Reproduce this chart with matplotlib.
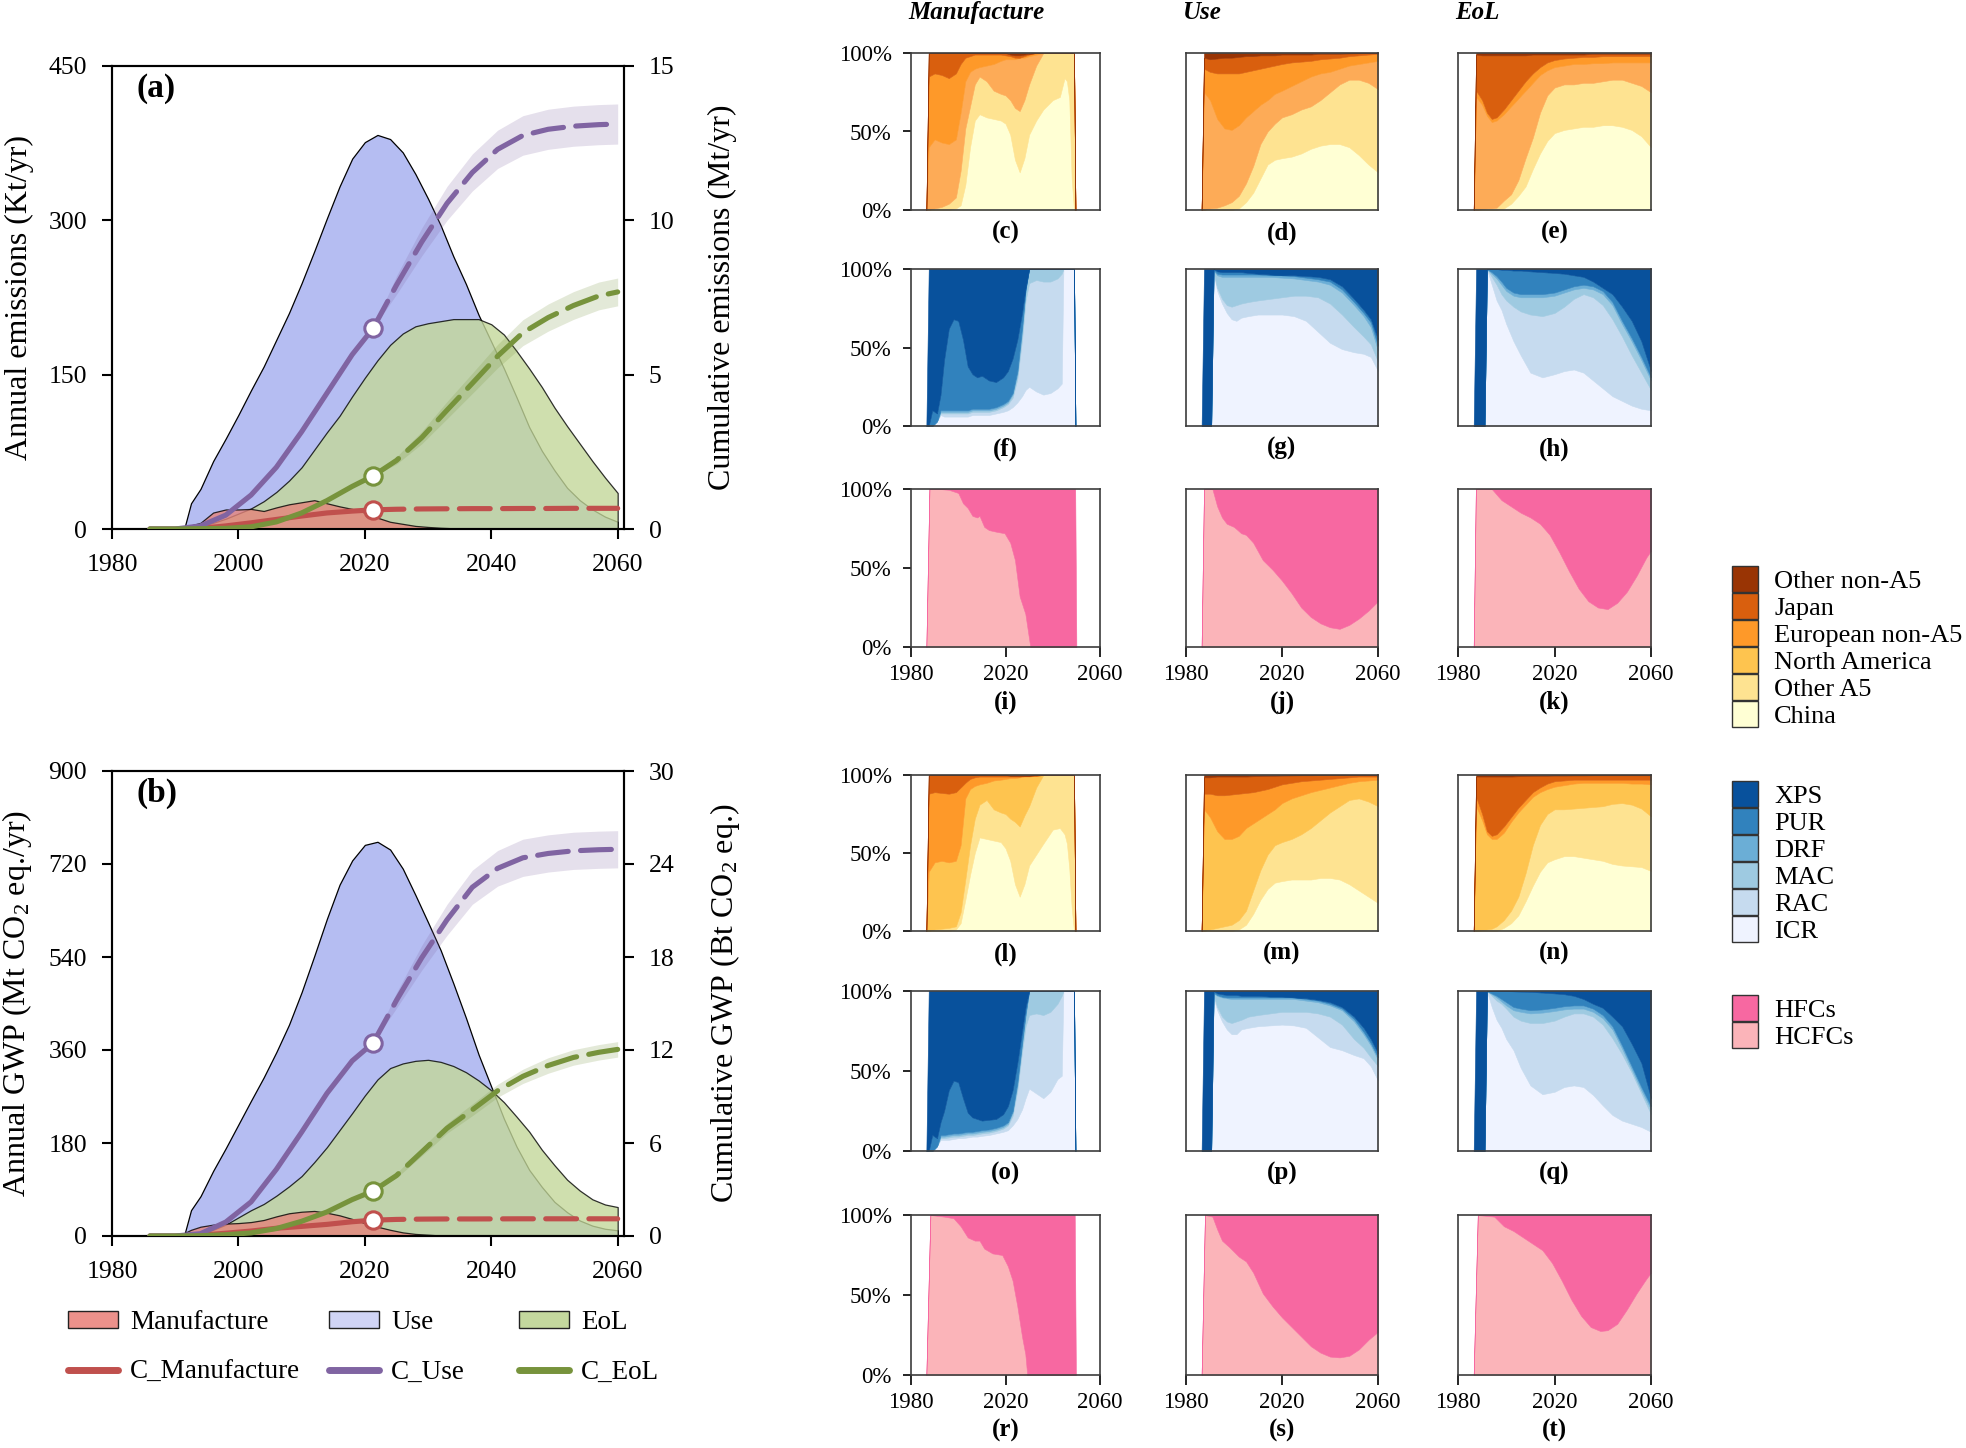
import numpy as np
import matplotlib
matplotlib.use("Agg")
import matplotlib.pyplot as plt
from matplotlib.patches import Patch
from matplotlib.lines import Line2D

plt.rcParams['font.family'] = ['Liberation Serif', 'DejaVu Serif']
plt.rcParams['mathtext.fontset'] = 'custom'
plt.rcParams['mathtext.rm'] = 'Liberation Serif'
plt.rcParams['mathtext.it'] = 'Liberation Serif:italic'
plt.rcParams['mathtext.bf'] = 'Liberation Serif:bold'

# ------------------------------------------------------------------
# Panels (a)/(b): annual emissions by stage (areas) and cumulative lines
# ------------------------------------------------------------------
yr_annual = [1986, 1990, 1991.5, 1992.5, 1994, 1996, 1998, 2000, 2002, 2004, 2006, 2008, 2010,
             2012, 2014, 2016, 2018, 2020, 2022, 2024, 2026, 2028, 2030, 2032, 2034, 2036,
             2038, 2040, 2042, 2044, 2046, 2048, 2050, 2052, 2054, 2056, 2058, 2060]
# (a) annual emissions, Kt/yr
a_manufacture = [0, 0.5, 2, 3.5, 6, 16, 19, 19, 19.5, 17.5, 21, 24, 26, 28, 25, 22, 19.5, 16, 11, 7,
                 5, 3, 2, 1.2, 0.7, 0.3, 0, 0, 0, 0, 0, 0, 0, 0, 0, 0, 0, 0]
a_use = [0, 0, 2, 25, 39, 66, 88, 111, 135, 158, 184, 210, 239, 270, 302, 333, 360, 376, 383, 379,
         366, 345, 321, 295, 265, 238, 208, 182, 156, 128, 99, 76, 57, 40, 28, 19, 12, 7]
a_eol = [0, 0, 0, 1, 3, 6, 10, 15, 20, 27, 36, 47, 60, 77, 94, 110, 129, 147, 164, 179, 190, 197,
         200, 202, 204, 204, 204, 199, 189, 173, 156, 138, 118, 100, 83, 66, 50, 35]
# (b) annual GWP, Mt CO2 eq./yr
b_manufacture = [0, 1, 6, 12, 18, 22, 24, 25, 27, 31, 38, 44, 47, 48.5, 45, 40, 33, 25, 18, 12, 7,
                 4, 2.5, 1, 0.3, 0, 0, 0, 0, 0, 0, 0, 0, 0, 0, 0, 0, 0]
b_use = [0, 0, 5, 50, 77, 126, 170, 216, 262, 307, 356, 409, 472, 542, 614, 680, 727, 757, 763, 748,
         711, 660, 607, 553, 489, 422, 351, 289, 227, 173, 128, 95, 66, 46, 30, 20, 14, 11]
b_eol = [0, 0, 0, 0.5, 3, 12, 22, 36, 50, 62, 78, 96, 116, 143, 172, 205, 238, 272, 303, 325, 334,
         339, 341, 337, 329, 317, 301, 282, 259, 231, 202, 167, 137, 109, 88, 71, 61, 56]

yr_cum = [1986, 1990, 1994, 1998, 2002, 2006, 2010, 2014, 2018, 2021.3, 2025, 2029, 2033, 2037,
          2041, 2045, 2049, 2053, 2057, 2060]
marker_year = 2021.3
# (a) cumulative, Mt
a_c_manufacture = [0, 0, 0.02, 0.1, 0.2, 0.31, 0.42, 0.52, 0.58, 0.62, 0.64, 0.65, 0.655, 0.66,
                   0.66, 0.665, 0.665, 0.67, 0.67, 0.67]
a_c_use = [0, 0, 0.1, 0.45, 1.1, 2.0, 3.15, 4.4, 5.65, 6.5, 7.9, 9.3, 10.55, 11.55, 12.3, 12.75,
           12.95, 13.05, 13.1, 13.12]
a_c_eol = [0, 0, 0.01, 0.02, 0.07, 0.23, 0.52, 0.92, 1.38, 1.72, 2.22, 2.96, 3.85, 4.72, 5.6, 6.36,
           6.85, 7.24, 7.55, 7.68]
# (b) cumulative, Bt CO2 eq.
b_c_manufacture = [0, 0, 0.05, 0.18, 0.32, 0.5, 0.62, 0.75, 0.92, 1.02, 1.07, 1.09, 1.1, 1.1, 1.105,
                   1.11, 1.11, 1.11, 1.11, 1.11]
b_c_use = [0, 0, 0.15, 0.9, 2.2, 4.3, 6.7, 9.2, 11.3, 12.45, 15.2, 17.95, 20.4, 22.5, 23.72, 24.4,
           24.68, 24.85, 24.92, 24.95]
b_c_eol = [0, 0, 0.02, 0.08, 0.2, 0.48, 0.95, 1.55, 2.35, 2.9, 3.9, 5.42, 6.95, 8.14, 9.37, 10.3,
           11.0, 11.52, 11.85, 12.04]

# uncertainty bands of projections
yr_band = [2021.3, 2025, 2029, 2033, 2037, 2041, 2045, 2049, 2053, 2057, 2060]
a_c_use_lo = [6.5, 7.6, 8.85, 10.0, 10.95, 11.68, 12.11, 12.3, 12.4, 12.45, 12.47]
a_c_use_hi = [6.5, 8.2, 9.75, 11.1, 12.15, 12.92, 13.39, 13.6, 13.7, 13.75, 13.77]
a_c_eol_lo = [1.72, 2.10, 2.76, 3.57, 4.39, 5.22, 5.94, 6.41, 6.79, 7.10, 7.23]
a_c_eol_hi = [1.72, 2.34, 3.16, 4.13, 5.05, 5.98, 6.78, 7.29, 7.69, 8.00, 8.13]
b_c_use_lo = [12.45, 14.7, 17.15, 19.4, 21.4, 22.57, 23.2, 23.48, 23.65, 23.72, 23.75]
b_c_use_hi = [12.45, 15.7, 18.75, 21.4, 23.6, 24.87, 25.6, 25.88, 26.05, 26.12, 26.15]
b_c_eol_lo = [2.9, 3.75, 5.17, 6.63, 7.76, 8.95, 9.84, 10.5, 11.02, 11.35, 11.54]
b_c_eol_hi = [2.9, 4.05, 5.67, 7.27, 8.52, 9.79, 10.76, 11.5, 12.02, 12.35, 12.54]

# ------------------------------------------------------------------
# Share panels: cumulative upper edge (%) of each stacked layer, bottom -> top
# ------------------------------------------------------------------
region_labels = ['China', 'Other A5', 'North America', 'European non-A5', 'Japan', 'Other non-A5']
sector_labels = ['ICR', 'RAC', 'MAC', 'DRF', 'PUR', 'XPS']
gas_labels = ['HCFCs', 'HFCs']

yr_c = [1986.5, 1987.5, 1990, 1993, 1996, 1999, 2001, 2003, 2005, 2007, 2009, 2012, 2015, 2018, 2020,
        2022, 2024, 2026, 2028, 2030, 2033, 2036, 2040, 2043, 2045, 2046, 2047, 2048, 2049, 2049.6]
c_edges = [
    [0, 0, 0, 0, 0, 1, 3, 16, 40, 57, 61, 59, 58, 57, 55, 48, 32, 24, 33, 48, 57, 64, 70, 72, 84, 82, 70, 20, 0, 0],
    [0, 0, 1, 2, 4, 8, 25, 52, 66, 80, 85, 82, 76, 74, 73, 70, 65, 63, 70, 80, 92, 100, 100, 100, 100, 100, 100, 100, 100, 0],
    [0, 40, 45, 43, 42, 45, 62, 82, 88, 90, 91, 92, 93, 95, 96, 96, 96, 97, 97, 98, 99, 100, 100, 100, 100, 100, 100, 100, 100, 0],
    [0, 85, 87, 86, 84, 87, 93, 97, 98, 99, 99, 99, 99, 99, 98.5, 98, 97, 97, 98, 99, 100, 100, 100, 100, 100, 100, 100, 100, 100, 0],
    [0, 100, 100, 100, 100, 100, 100, 100, 100, 100, 100, 100, 100, 100, 100, 99, 98.5, 98.5, 99, 99.5, 100, 100, 100, 100, 100, 100, 100, 100, 100, 0],
    [0, 100, 100, 100, 100, 100, 100, 100, 100, 100, 100, 100, 100, 100, 100, 100, 100, 100, 100, 100, 100, 100, 100, 100, 100, 100, 100, 100, 100, 0],
]

yr_d = [1986.5, 1987.5, 1990, 1993, 1996, 1999, 2002, 2005, 2008, 2011, 2014, 2017, 2020, 2024, 2028,
        2032, 2036, 2040, 2044, 2048, 2052, 2056, 2060]
d_edges = [
    [0, 0, 0, 0, 0, 0, 1, 5, 11, 20, 29, 32, 33, 34, 36, 39, 41, 42, 42, 40, 35, 29, 24],
    [0, 0, 1, 1.5, 3, 5, 9, 17, 28, 42, 50, 55, 59, 61, 64, 66, 70, 75, 80, 83, 83, 81, 77],
    [0, 75, 70, 58, 52, 51, 54, 59, 63, 67, 70, 74, 76, 79, 82, 85, 87, 88, 90, 92, 93, 94, 95],
    [0, 90, 88, 87, 87, 87, 87, 88, 89, 90, 91, 92, 93, 94, 94.5, 95, 96, 96.5, 97, 98, 98.5, 99, 99.5],
    [0, 97, 96, 96.5, 97, 97, 97.5, 98, 98, 98.5, 98.5, 98.5, 99, 99, 99, 99, 99.5, 99.5, 99.5, 99.7, 99.8, 99.9, 100],
    [0, 100, 100, 100, 100, 100, 100, 100, 100, 100, 100, 100, 100, 100, 100, 100, 100, 100, 100, 100, 100, 100, 100],
]

yr_e = [1986.5, 1987.5, 1990, 1992, 1994, 1996, 1999, 2002, 2005, 2008, 2011, 2014, 2017, 2020, 2024,
        2028, 2032, 2036, 2040, 2044, 2048, 2052, 2056, 2060]
e_edges = [
    [0, 0, 0, 0, 0, 0, 1, 4, 9, 15, 26, 36, 44, 49, 51, 52, 53, 53, 54, 54, 53, 51, 47, 40],
    [0, 0, 0.5, 1, 1, 1.5, 6, 10, 19, 33, 46, 62, 73, 78, 80, 80, 81, 81, 82, 83, 83, 81, 79, 75],
    [0, 72, 67, 60, 56, 57, 61, 66, 71, 76, 81, 86, 89, 91, 92, 93, 93, 93.5, 93.5, 94, 94, 94, 94, 94],
    [0, 76, 70, 62, 58, 59, 64, 70, 76, 82, 87, 91, 94, 95.5, 96.5, 97, 97.5, 97.5, 98, 98, 98, 98, 98, 98],
    [0, 99, 98.5, 98.5, 98.5, 98.5, 98.5, 98.5, 98.5, 98.5, 99, 99, 99, 99, 99, 99, 99, 99.5, 99.5, 99.5, 99.5, 99.5, 99.5, 99.5],
    [0, 100, 100, 100, 100, 100, 100, 100, 100, 100, 100, 100, 100, 100, 100, 100, 100, 100, 100, 100, 100, 100, 100, 100],
]

yr_f = [1986.5, 1987.5, 1989, 1991, 1992.5, 1994, 1996, 1998, 2000, 2002, 2004, 2006, 2008, 2010, 2013,
        2016, 2019, 2021, 2023, 2025, 2027, 2028.5, 2030, 2033, 2036, 2039, 2042, 2043.8, 2044.5, 2046,
        2048, 2049, 2049.6]
f_edges = [
    [0, 0, 0, 3, 7, 6, 6, 6, 6, 6, 6, 7, 7, 7, 7, 8, 9, 10, 12, 15, 19, 23, 25, 22, 20, 21, 24, 27, 100, 100, 100, 100, 0],
    [0, 0, 0, 3, 8, 8, 8, 8, 8, 8, 8, 9, 9, 9, 9, 10, 12, 14, 18, 30, 55, 80, 91, 93, 92, 92, 94, 97, 100, 100, 100, 100, 0],
    [0, 0, 0, 3, 9, 9, 9, 9, 9, 9, 9, 10, 10, 10, 10, 11, 13, 15, 20, 33, 60, 86, 100, 100, 100, 100, 100, 100, 100, 100, 100, 100, 0],
    [0, 0, 0, 3, 10, 10, 10, 10, 10, 10, 10, 11, 11, 11, 11, 12, 14, 16, 21, 35, 63, 87, 100, 100, 100, 100, 100, 100, 100, 100, 100, 100, 0],
    [0, 0, 10, 8, 20, 42, 62, 68, 67, 55, 38, 33, 31, 32, 29, 28, 31, 35, 43, 55, 72, 88, 100, 100, 100, 100, 100, 100, 100, 100, 100, 100, 0],
    [0, 100, 100, 100, 100, 100, 100, 100, 100, 100, 100, 100, 100, 100, 100, 100, 100, 100, 100, 100, 100, 100, 100, 100, 100, 100, 100, 100, 100, 100, 100, 100, 0],
]

yr_g = [1986.5, 1987.5, 1990.5, 1991.5, 1993, 1995, 1997, 1999, 2001, 2003, 2006, 2010, 2015, 2020, 2025,
        2030, 2035, 2040, 2045, 2050, 2054, 2057, 2060]
g_edges = [
    [0, 0, 0, 97, 86, 78, 72, 68, 67, 69, 70, 71, 71, 71, 70, 67, 60, 53, 49, 47, 46, 44, 35],
    [0, 0, 0, 98, 88, 81, 77, 76, 77, 78, 79, 80, 81, 82, 83, 83, 82, 78, 71, 63, 57, 52, 41],
    [0, 0, 0, 99, 96, 95, 95, 95, 95, 95, 95, 95, 95, 94.5, 94, 93, 92, 90, 85, 77, 70, 63, 48],
    [0, 0, 0, 99.5, 97, 96.5, 96.5, 96.5, 96.5, 96.5, 96.5, 96.5, 96, 96, 95.5, 94.5, 93.5, 92, 87, 79, 72, 66, 51],
    [0, 0, 0, 100, 98.5, 98, 98, 98, 98, 98, 97.5, 97, 96.5, 96, 96, 95.5, 95, 93.5, 89, 81, 74, 68, 55],
    [0, 100, 100, 100, 100, 100, 100, 100, 100, 100, 100, 100, 100, 100, 100, 100, 100, 100, 100, 100, 100, 100, 100],
]

yr_h = [1986.5, 1987.5, 1991, 1992, 1994, 1996, 1998, 2000, 2003, 2006, 2010, 2015, 2020, 2024, 2028,
        2032, 2036, 2040, 2044, 2048, 2052, 2056, 2060]
h_edges = [
    [0, 0, 0, 100, 90, 80, 74, 65, 54, 45, 34, 31, 33, 35, 36, 34, 29, 24, 19, 16, 13, 11, 10],
    [0, 0, 0, 100, 95, 90, 84, 80, 76, 73, 71, 70, 72, 76, 81, 84, 82, 77, 68, 57, 45, 34, 23],
    [0, 0, 0, 100, 97, 94, 90, 86, 83, 82, 82, 82, 83, 85, 87, 88, 87, 84, 77, 65, 54, 42, 29],
    [0, 0, 0, 100, 98, 95.5, 92, 88, 85, 84, 84, 84, 85, 87, 89, 90, 89, 86, 79, 67, 56, 44, 31],
    [0, 0, 0, 100, 100, 100, 99.5, 99.5, 99, 99, 98.5, 98, 97.5, 97, 96, 95, 92, 88, 84, 76, 67, 54, 35],
    [0, 100, 100, 100, 100, 100, 100, 100, 100, 100, 100, 100, 100, 100, 100, 100, 100, 100, 100, 100, 100, 100, 100],
]

yr_i = [1986.5, 1987.8, 1992, 1996, 2000, 2002, 2004, 2006, 2008, 2009, 2011, 2013, 2016, 2019.6, 2022,
        2024, 2026, 2028.4, 2030.5, 2035, 2040, 2045, 2049.5, 2050]
i_edges = [
    [0, 100, 100, 99.5, 97.5, 91, 88, 83, 82, 83, 76, 74, 73, 72, 66, 55, 32, 21, 0, 0, 0, 0, 0, 0],
    [0, 100, 100, 100, 100, 100, 100, 100, 100, 100, 100, 100, 100, 100, 100, 100, 100, 100, 100, 100, 100, 100, 100, 0],
]

yr_j = [1986.5, 1987.5, 1991, 1993, 1995, 1997, 2000, 2003, 2005, 2008, 2012, 2016, 2020, 2024, 2028,
        2032, 2036, 2040, 2044, 2048, 2052, 2056, 2060]
j_edges = [
    [0, 100, 100, 89, 82, 78, 76, 72, 71, 66, 55, 49, 42, 34, 25, 19, 15, 12.5, 11.5, 14, 18, 23, 29],
    [0, 100, 100, 100, 100, 100, 100, 100, 100, 100, 100, 100, 100, 100, 100, 100, 100, 100, 100, 100, 100, 100, 100],
]

yr_k = [1986.5, 1987.4, 1990, 1994, 1998, 2002, 2006, 2010, 2014, 2018, 2022, 2026, 2030, 2034, 2038,
        2042, 2046, 2050, 2054, 2058, 2060]
k_edges = [
    [0, 100, 100, 100, 93, 89, 85, 82, 78, 71, 60, 48, 37, 29, 25, 24, 28, 35, 45, 56.5, 61],
    [0, 100, 100, 100, 100, 100, 100, 100, 100, 100, 100, 100, 100, 100, 100, 100, 100, 100, 100, 100, 100],
]

yr_l = yr_c
l_edges = [
    [0, 0, 0, 0, 0, 1, 5, 20, 36, 50, 60, 59, 58, 57, 53, 45, 30, 22, 30, 42, 49, 56, 65, 66, 62, 56, 40, 15, 0, 0],
    [0, 0, 1, 1.5, 2, 3, 12, 33, 55, 72, 81, 84, 78, 76, 75, 72, 70, 67, 74, 80, 92, 100, 100, 100, 100, 100, 100, 100, 100, 0],
    [0, 38, 44, 45, 44, 45, 55, 85, 91, 93, 94, 95, 96.5, 97, 97.5, 98, 98, 98.5, 99, 99, 99.5, 100, 100, 100, 100, 100, 100, 100, 100, 0],
    [0, 88, 89, 88.5, 88, 89, 92, 95, 97.5, 98.5, 99, 99, 99, 99, 99, 99, 99, 99, 99.5, 99.5, 99.5, 100, 100, 100, 100, 100, 100, 100, 100, 0],
    [0, 100, 100, 100, 100, 100, 100, 100, 100, 100, 100, 100, 100, 100, 100, 99.5, 99.5, 99.5, 99.5, 99.5, 100, 100, 100, 100, 100, 100, 100, 100, 100, 0],
    [0, 100, 100, 100, 100, 100, 100, 100, 100, 100, 100, 100, 100, 100, 100, 100, 100, 100, 100, 100, 100, 100, 100, 100, 100, 100, 100, 100, 100, 0],
]

yr_m = yr_d
m_edges = [
    [0, 0, 0, 0, 0, 0, 1, 4, 11, 20, 27, 31, 32, 33, 33, 33, 34, 34, 33, 30, 26, 22, 18],
    [0, 0, 1, 2, 3, 4, 7, 13, 26, 39, 49, 55, 57, 59, 62, 66, 71, 76, 80, 84, 85, 83, 80],
    [0, 78, 73, 64, 59, 59, 61, 66, 69, 72, 75, 78, 82, 85, 87, 89, 90.5, 92, 93.5, 95, 96, 96.5, 97],
    [0, 88, 88, 87, 87, 87.5, 88, 88.5, 89, 90, 91, 92.5, 94, 95, 96, 96.5, 97, 97.5, 98, 98.5, 99, 99, 99],
    [0, 98.5, 98.5, 99, 99, 99, 99, 99, 99.2, 99.3, 99.4, 99.5, 99.6, 99.7, 99.8, 99.8, 99.9, 99.9, 100, 100, 100, 100, 100],
    [0, 100, 100, 100, 100, 100, 100, 100, 100, 100, 100, 100, 100, 100, 100, 100, 100, 100, 100, 100, 100, 100, 100],
]

yr_n = yr_e
n_edges = [
    [0, 0, 0, 0, 0, 0, 2, 5, 10, 19, 29, 38, 44, 46, 48, 48, 47, 46, 45, 43, 42, 41.5, 41, 38.5],
    [0, 0, 0.5, 1, 1.5, 3, 7, 13, 22, 37, 55, 68, 75, 78, 78, 78.5, 79, 79.5, 80, 81.5, 82, 81, 78.5, 73.5],
    [0, 80, 71, 62, 59, 59, 63, 70, 76, 81, 86, 89, 91, 92.5, 93.5, 94.5, 95, 95, 95, 95, 95, 94.5, 94.5, 94],
    [0, 86, 75, 64, 61, 62, 67, 73, 79, 84, 89, 92, 94.5, 96, 96.5, 97, 97, 97, 97, 97, 97, 97, 97, 97],
    [0, 99, 99, 99, 99, 99, 99, 99, 99.2, 99.3, 99.4, 99.5, 99.5, 99.6, 99.6, 99.7, 99.7, 99.8, 99.8, 99.8, 99.8, 99.8, 99.8, 99.8],
    [0, 100, 100, 100, 100, 100, 100, 100, 100, 100, 100, 100, 100, 100, 100, 100, 100, 100, 100, 100, 100, 100, 100, 100],
]

yr_o = yr_f
o_edges = [
    [0, 0, 0, 3, 7, 7, 7, 7.5, 8, 8, 8.5, 9, 9, 9.5, 10, 11, 12, 13, 16, 20, 26, 33, 39, 36, 33, 37, 45, 47, 100, 100, 100, 100, 0],
    [0, 0, 0, 3, 8, 8, 8.5, 9, 9, 9.5, 10, 10, 10.5, 11, 11.5, 12.5, 14, 16, 22, 38, 62, 78, 85, 86, 85, 87, 92, 97, 100, 100, 100, 100, 0],
    [0, 0, 0, 3, 9, 9, 9.5, 10, 10, 10.5, 11, 11, 11.5, 12, 12.5, 13.5, 15, 17, 24, 41, 66, 84, 100, 100, 100, 100, 100, 100, 100, 100, 100, 100, 0],
    [0, 0, 0, 3, 10, 10, 10.5, 11, 11, 11.5, 12, 12, 12.5, 13, 13.5, 14.5, 16, 18, 25, 43, 68, 86, 100, 100, 100, 100, 100, 100, 100, 100, 100, 100, 0],
    [0, 0, 10, 8, 18, 25, 38, 44, 43, 33, 24, 21, 20, 19, 19.5, 20, 23, 28, 38, 55, 75, 90, 100, 100, 100, 100, 100, 100, 100, 100, 100, 100, 0],
    [0, 100, 100, 100, 100, 100, 100, 100, 100, 100, 100, 100, 100, 100, 100, 100, 100, 100, 100, 100, 100, 100, 100, 100, 100, 100, 100, 100, 100, 100, 100, 100, 0],
]

yr_p = yr_g
p_edges = [
    [0, 0, 0, 96, 88, 81, 76, 73, 73, 76, 77, 78, 78.5, 79, 78.5, 77, 71, 65, 63, 60, 58, 53, 44],
    [0, 0, 0, 97.5, 90, 84, 81, 80, 81, 82, 84, 85, 86, 87, 87, 87, 86, 84, 79, 70, 64.5, 58.5, 53],
    [0, 0, 0, 98.5, 97, 96, 95.5, 95, 95, 95, 95, 95, 95, 95, 95, 94, 93, 91, 88, 81, 73, 66, 57],
    [0, 0, 0, 99, 97.5, 96.5, 96, 96, 96, 96, 96, 96, 96, 96, 96, 95, 94, 92, 89, 82.5, 74.5, 67.5, 58.5],
    [0, 0, 0, 100, 98.5, 98, 97.5, 97.5, 97.5, 97, 97, 97, 96.5, 96.5, 96, 95.5, 94.5, 93, 90, 84, 77, 70, 61],
    [0, 100, 100, 100, 100, 100, 100, 100, 100, 100, 100, 100, 100, 100, 100, 100, 100, 100, 100, 100, 100, 100, 100],
]

yr_q = yr_h
q_edges = [
    [0, 0, 0, 100, 90, 82, 77, 70, 63, 52, 41, 35.5, 37, 40, 41, 40, 35, 28.5, 22.5, 19, 17, 15, 12],
    [0, 0, 0, 100, 97, 94, 92, 89, 84, 81.5, 80, 80, 81.5, 84, 86, 86, 84, 79, 70.5, 60.5, 49, 36, 23],
    [0, 0, 0, 100, 98, 96, 93.5, 91, 88, 87, 86, 86.5, 87.5, 88.5, 89, 89, 87, 83, 76, 64, 51, 38, 26],
    [0, 0, 0, 100, 98.5, 97, 95, 93, 90, 89, 88, 88.5, 89.5, 90.5, 91, 91, 89, 85, 78, 66, 53, 40, 28],
    [0, 0, 0, 100, 100, 100, 100, 100, 99.8, 99.6, 99.5, 99, 98.5, 98, 97, 95, 92, 89.5, 84, 78, 67, 55, 33],
    [0, 100, 100, 100, 100, 100, 100, 100, 100, 100, 100, 100, 100, 100, 100, 100, 100, 100, 100, 100, 100, 100, 100],
]

yr_r = [1986.5, 1988.2, 1994, 1998, 2001, 2004, 2007, 2009, 2011, 2014.5, 2018.6, 2021, 2023, 2025,
        2027, 2028.4, 2029.2, 2035, 2040, 2045, 2049.3, 2049.8]
r_edges = [
    [0, 100, 99, 98, 93, 86, 84, 84, 79, 76, 75, 68, 59, 43, 24, 13, 0, 0, 0, 0, 0, 0],
    [0, 100, 100, 100, 100, 100, 100, 100, 100, 100, 100, 100, 100, 100, 100, 100, 100, 100, 100, 100, 100, 0],
]

yr_s = [1986.5, 1987.9, 1991, 1993, 1995, 1998, 2002, 2005, 2008, 2012, 2016, 2020, 2024, 2028, 2032,
        2036, 2040, 2044, 2048, 2052, 2056, 2060]
s_edges = [
    [0, 100, 99, 91, 84, 80, 74, 71, 64, 51, 43, 36, 30, 24, 18, 14, 11.5, 11, 12, 16, 22, 27],
    [0, 100, 100, 100, 100, 100, 100, 100, 100, 100, 100, 100, 100, 100, 100, 100, 100, 100, 100, 100, 100, 100],
]

yr_t = [1986.5, 1988.2, 1995, 1999, 2003, 2007, 2011, 2015, 2019, 2023, 2027, 2031, 2035, 2039, 2042,
        2046, 2050, 2054, 2058, 2060]
t_edges = [
    [0, 100, 99, 93, 90, 86, 82, 78, 70, 59, 47, 37, 30, 27.5, 28, 32, 41, 51, 60, 64],
    [0, 100, 100, 100, 100, 100, 100, 100, 100, 100, 100, 100, 100, 100, 100, 100, 100, 100, 100, 100],
]

# ------------------------------------------------------------------
# Styles
# ------------------------------------------------------------------
region_colors_emis = ['#FFFFD4', '#FEE391', '#FDAB57', '#FE9929', '#D95F0E', '#993404']
region_colors_gwp = ['#FFFFD4', '#FEE391', '#FEC44F', '#FE9929', '#D95F0E', '#993404']
sector_colors = ['#EFF3FF', '#C6DBEF', '#9ECAE1', '#6BAED6', '#3182BD', '#08519C']
gas_colors = ['#FBB4B9', '#F768A1']

col_manu_fill, col_use_fill, col_eol_fill = '#E5847B', '#B5BDF2', '#C4D89A'
col_manu_line, col_use_line, col_eol_line = '#C0504D', '#8064A2', '#77933C'

W, H = 1966, 1448
fig = plt.figure(figsize=(W / 100, H / 100), dpi=100)

LINE_W = 3.7


def main_panel(rect, label, manu, use, eol, ymax, yticks, rmax, rticks,
               c_manu, c_use, c_eol, use_lo, use_hi, eol_lo, eol_hi, ylabel, rlabel):
    ax = fig.add_axes(rect)
    yrs = np.asarray(yr_annual)
    ax.fill_between(yrs, 0, use, facecolor=col_use_fill, edgecolor='black', linewidth=0.9, zorder=1)
    ax.fill_between(yrs, 0, eol, facecolor=col_eol_fill, edgecolor='black', linewidth=0.9,
                    alpha=0.8, zorder=2)
    ax.fill_between(yrs, 0, manu, facecolor=col_manu_fill, edgecolor='black', linewidth=0.9,
                    alpha=0.8, zorder=3)
    ax.set_xlim(1980, 2061)
    ax.set_ylim(0, ymax)
    ax.set_yticks(yticks)
    ax.set_xticks([1980, 2000, 2020, 2040, 2060])
    ax.tick_params(direction='out', length=7, width=1.5, labelsize=18.5, pad=11)
    for s in ax.spines.values():
        s.set_linewidth(1.5)
        s.set_color('black')
    ax.set_ylabel(ylabel, fontsize=23, labelpad=10)
    ax.text(0.048, 0.985, label, transform=ax.transAxes, fontsize=24, fontweight='bold',
            ha='left', va='top')

    ax2 = ax.twinx()
    ax2.set_ylim(0, rmax)
    ax2.set_yticks(rticks)
    ax2.tick_params(direction='out', length=7, width=1.5, labelsize=18.5, pad=11)
    for s in ax2.spines.values():
        s.set_linewidth(1.5)
    ax2.set_ylabel(rlabel, fontsize=23, labelpad=24)

    cy = np.asarray(yr_cum)
    ax2.fill_between(yr_band, use_lo, use_hi, color=col_use_line, alpha=0.2, linewidth=0, zorder=1)
    ax2.fill_between(yr_band, eol_lo, eol_hi, color=col_eol_line, alpha=0.2, linewidth=0, zorder=1)
    solid = cy <= marker_year
    dashed = cy >= marker_year
    idx = int(np.argmin(np.abs(cy - marker_year)))
    for vals, col in [(c_manu, col_manu_line), (c_use, col_use_line), (c_eol, col_eol_line)]:
        v = np.asarray(vals)
        ax2.plot(cy[solid], v[solid], color=col, lw=LINE_W, solid_capstyle='round', zorder=3)
        ax2.plot(cy[dashed], v[dashed], color=col, lw=LINE_W, dashes=(6, 2.4),
                 dash_capstyle='round', zorder=3)
    for vals, col in [(c_manu, col_manu_line), (c_use, col_use_line), (c_eol, col_eol_line)]:
        ax2.plot(cy[idx], vals[idx], 'o', ms=12.5, mfc='white', mec=col, mew=2.2, zorder=5)
    return ax


main_panel([112 / W, 1 - 529 / H, 512 / W, 463 / H], '(a)', a_manufacture, a_use, a_eol,
           450, [0, 150, 300, 450], 15, [0, 5, 10, 15],
           a_c_manufacture, a_c_use, a_c_eol, a_c_use_lo, a_c_use_hi, a_c_eol_lo, a_c_eol_hi,
           'Annual emissions (Kt/yr)', 'Cumulative emissions (Mt/yr)')
main_panel([112 / W, 1 - 1236 / H, 512 / W, 465 / H], '(b)', b_manufacture, b_use, b_eol,
           900, [0, 180, 360, 540, 720, 900], 30, [0, 6, 12, 18, 24, 30],
           b_c_manufacture, b_c_use, b_c_eol, b_c_use_lo, b_c_use_hi, b_c_eol_lo, b_c_eol_hi,
           r'Annual GWP (Mt CO$_2$ eq./yr)', r'Cumulative GWP (Bt CO$_2$ eq.)')

# bottom legend for (a)/(b): one legend per column
leg_cols = [
    (68, '#EB918B', col_manu_line, 'Manufacture', 'C_Manufacture'),
    (329, '#D0D4F5', col_use_line, 'Use', 'C_Use'),
    (519, '#C4D89E', col_eol_line, 'EoL', 'C_EoL'),
]
for x_px, pcol, lcol, lab1, lab2 in leg_cols:
    fig.legend([Patch(facecolor=pcol, edgecolor='#222222', linewidth=1.0),
                Line2D([], [], color=lcol, lw=5, solid_capstyle='round')],
               [lab1, lab2], loc='upper left', bbox_to_anchor=(x_px / W, 1 - 1310 / H),
               frameon=False, fontsize=19.5, handlelength=1.85, handleheight=0.6,
               handletextpad=0.45, labelspacing=0.93, borderpad=0, borderaxespad=0)

# ------------------------------------------------------------------
# Share panels
# ------------------------------------------------------------------
col_x = [(911, 189), (1186, 192), (1458, 193)]
row_y = [(53, 210), (269, 426), (489, 647), (775, 931), (991, 1151), (1215, 1375)]

panels = [
    [('(c)', yr_c, c_edges, region_colors_emis), ('(d)', yr_d, d_edges, region_colors_emis), ('(e)', yr_e, e_edges, region_colors_emis)],
    [('(f)', yr_f, f_edges, sector_colors), ('(g)', yr_g, g_edges, sector_colors), ('(h)', yr_h, h_edges, sector_colors)],
    [('(i)', yr_i, i_edges, gas_colors), ('(j)', yr_j, j_edges, gas_colors), ('(k)', yr_k, k_edges, gas_colors)],
    [('(l)', yr_l, l_edges, region_colors_gwp), ('(m)', yr_m, m_edges, region_colors_gwp), ('(n)', yr_n, n_edges, region_colors_gwp)],
    [('(o)', yr_o, o_edges, sector_colors), ('(p)', yr_p, p_edges, sector_colors), ('(q)', yr_q, q_edges, sector_colors)],
    [('(r)', yr_r, r_edges, gas_colors), ('(s)', yr_s, s_edges, gas_colors), ('(t)', yr_t, t_edges, gas_colors)],
]
col_titles = ['Manufacture', 'Use', 'EoL']

for ri, row in enumerate(panels):
    top_px, bot_px = row_y[ri]
    for ci, (lab, yrs, edges, colors) in enumerate(row):
        x0, w = col_x[ci]
        ax = fig.add_axes([x0 / W, 1 - bot_px / H, w / W, (bot_px - top_px) / H])
        lower = np.zeros(len(yrs))
        for edge, colr in zip(edges, colors):
            upper = np.asarray(edge, dtype=float)
            ax.fill_between(yrs, lower, upper, facecolor=colr, edgecolor=colr, linewidth=0.4, zorder=1)
            lower = upper
        ax.set_xlim(1980, 2060)
        ax.set_ylim(0, 100)
        for s in ax.spines.values():
            s.set_color('#3c3c3c')
            s.set_linewidth(1.2)
            s.set_zorder(3)
        if ci == 0:
            ax.set_yticks([0, 50, 100])
            ax.set_yticklabels(['0%', '50%', '100%'])
            ax.tick_params(axis='y', direction='out', length=6, width=1.2, labelsize=16.5, pad=8)
        else:
            ax.set_yticks([])
        has_x = ri in (2, 5)
        if has_x:
            ax.set_xticks([1980, 2020, 2060])
            ax.tick_params(axis='x', direction='out', length=7, width=1.2, labelsize=16.5, pad=5)
        else:
            ax.set_xticks([])
        off = -40 if has_x else -16.5
        ax.annotate(lab, xy=(0.5, 0), xycoords='axes fraction', xytext=(0, off),
                    textcoords='offset points', ha='center', va='center', fontsize=18,
                    fontweight='bold')
        if ri == 0:
            ax.annotate(col_titles[ci], xy=(0, 1), xycoords='axes fraction', xytext=(-2, 29),
                        textcoords='offset points', ha='left', va='center', fontsize=18,
                        fontweight='bold', fontstyle='italic')

# right-hand legends
leg_kw = dict(loc='upper left', frameon=False, fontsize=19, handlelength=1.0, handleheight=1.15,
              labelspacing=0.0, handletextpad=0.6, borderpad=0, borderaxespad=0)
fig.legend([Patch(facecolor=c, edgecolor='#333333', linewidth=1.0) for c in region_colors_gwp[::-1]],
           region_labels[::-1], bbox_to_anchor=(1732 / W, 1 - 566 / H), **leg_kw)
fig.legend([Patch(facecolor=c, edgecolor='#333333', linewidth=1.0) for c in sector_colors[::-1]],
           sector_labels[::-1], bbox_to_anchor=(1732 / W, 1 - 781 / H), **leg_kw)
fig.legend([Patch(facecolor=c, edgecolor='#333333', linewidth=1.0) for c in gas_colors[::-1]],
           gas_labels[::-1], bbox_to_anchor=(1732 / W, 1 - 995 / H), **leg_kw)

fig.savefig('out.png', dpi=100)
